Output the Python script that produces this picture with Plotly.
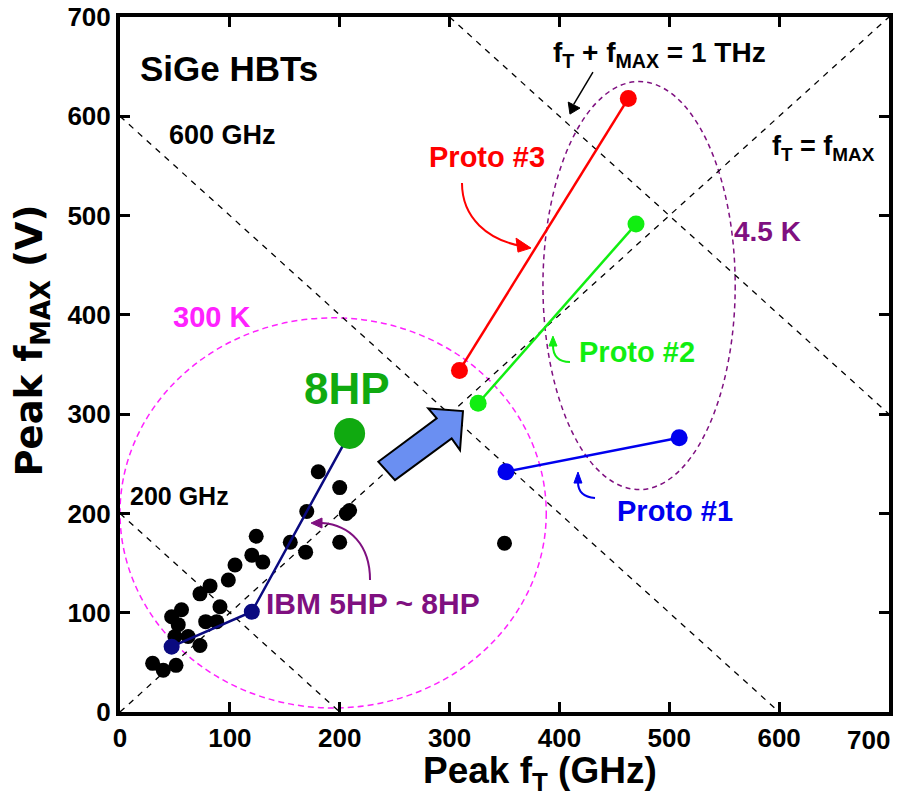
import plotly.graph_objects as go

# ---------------- data (GHz) ----------------
ibm_ft = [29.7, 39.4, 51, 50, 47, 56, 53, 62, 72.8, 72.8, 82, 78, 88, 91, 98.6, 104.7,
          120, 124, 130, 155, 170, 169, 180.5, 200, 200, 206, 209, 350]
ibm_fmax = [49, 42, 47, 76, 96, 103, 88, 76, 67, 119, 127, 91, 91, 106, 133, 148,
            158, 177, 151, 171, 202, 161, 242, 226, 171, 200, 203, 170]

trend_ft = [47, 120, 209]          # 5HP -> 7HP -> 8HP
trend_fmax = [65.8, 101, 280.6]
hp5_7_ft = [47, 120]
hp5_7_fmax = [65.8, 101]

hp8_ft = [209]
hp8_fmax = [280.6]

proto1_ft = [351.3, 509]
proto1_fmax = [242, 276.2]
proto2_ft = [326, 469.7]
proto2_fmax = [311, 491.4]
proto3_ft = [309, 462.7]
proto3_fmax = [344, 618]

diag_ft = [0, 700]
diag_fmax = [0, 700]
sum200_ft = [0, 200]
sum200_fmax = [200, 0]
sum600_ft = [0, 600]
sum600_fmax = [600, 0]
sum1000_ft = [300, 700]
sum1000_fmax = [700, 300]

tick_vals = [0, 100, 200, 300, 400, 500, 600, 700]
x_tick_text = ["0", "100", "200", "300", "400", "500", "600", ""]
x_last_label = "700"   # drawn flush with the right edge, as in the reference
y_tick_text = ["0", "100", "200", "300", "400", "500", "600", "700"]

FONT = "Liberation Sans, Arial, Helvetica, sans-serif"
HEAVY = "DejaVu Sans, Liberation Sans, Arial, sans-serif"

RED = "#FF0000"
GREEN = "#11EE11"
BLUE = "#0000EE"
NAVY = "#0A0A80"
DKGREEN = "#10AA10"
PURPLE = "#7F1080"
MAGENTA = "#FF22FF"

fig = go.Figure()

dash = dict(color="black", width=1.3, dash="6px,6px")
for xs, ys in [(diag_ft, diag_fmax), (sum200_ft, sum200_fmax),
               (sum600_ft, sum600_fmax), (sum1000_ft, sum1000_fmax)]:
    fig.add_trace(go.Scatter(x=xs, y=ys, mode="lines", line=dash,
                             hoverinfo="skip", showlegend=False))

fig.add_trace(go.Scatter(x=ibm_ft, y=ibm_fmax, mode="markers",
                         marker=dict(color="black", size=15, line=dict(width=0)),
                         showlegend=False))
fig.add_trace(go.Scatter(x=trend_ft, y=trend_fmax, mode="lines",
                         line=dict(color=NAVY, width=2.5), showlegend=False))
fig.add_trace(go.Scatter(x=hp5_7_ft, y=hp5_7_fmax, mode="markers",
                         marker=dict(color=NAVY, size=16, opacity=1, line=dict(width=0)),
                         showlegend=False))
fig.add_trace(go.Scatter(x=hp8_ft, y=hp8_fmax, mode="markers",
                         marker=dict(color=DKGREEN, size=31, line=dict(width=0)),
                         showlegend=False))
for xs, ys, c in [(proto1_ft, proto1_fmax, BLUE), (proto2_ft, proto2_fmax, GREEN),
                  (proto3_ft, proto3_fmax, RED)]:
    fig.add_trace(go.Scatter(x=xs, y=ys, mode="lines+markers",
                             line=dict(color=c, width=2.5),
                             marker=dict(color=c, size=17, line=dict(width=0)),
                             showlegend=False))

shapes = []
# 300 K and 4.5 K boundaries
shapes.append(dict(type="circle", xref="x", yref="y", x0=0, x1=388, y0=4, y1=397,
                   line=dict(color=MAGENTA, width=1.5, dash="6px,4px"), layer="below"))
shapes.append(dict(type="circle", xref="x", yref="y", x0=385, x1=560, y0=224, y1=635,
                   line=dict(color=PURPLE, width=1.5, dash="5px,4px"), layer="below"))

# big blue arrow (data coordinates)
arrow = [(235.1, 252.1), (288.3, 295.8), (280.6, 305.8), (312.2, 303.1),
         (309.5, 263.8), (301.9, 275.6), (250.3, 233.6)]
path = "M " + " L ".join(f"{x},{y}" for x, y in arrow) + " Z"
shapes.append(dict(type="path", xref="x", yref="y", path=path,
                   fillcolor="#6A8FF2", line=dict(color="black", width=2), layer="above"))


def curve(pts, color, width=2):
    (x0, y0), (x1, y1), (x2, y2), (x3, y3) = pts
    return dict(type="path", xref="x", yref="y",
                path=f"M {x0},{y0} C {x1},{y1} {x2},{y2} {x3},{y3}",
                line=dict(color=color, width=width), layer="above")


def head(pts, color):
    (a, b), (c, d), (e, f) = pts
    return dict(type="path", xref="x", yref="y",
                path=f"M {a},{b} L {c},{d} L {e},{f} Z",
                fillcolor=color, line=dict(color=color, width=1), layer="above")


shapes += [
    curve([(311.3, 532.7), (311.3, 497.5), (335, 475.3), (365.9, 469.3)], RED),
    head([(374.1, 467.3), (360.5, 477.3), (362.3, 463.2)], RED),
    curve([(409.6, 352.5), (397.8, 352.5), (394.1, 359.5), (394.1, 369.6)], GREEN),
    head([(394.1, 378.6), (390.5, 368.6), (397.8, 368.6)], GREEN),
    curve([(432.4, 215.5), (420.5, 216.5), (416.9, 223.6), (416.9, 231.6)], BLUE),
    head([(416.9, 241.7), (413.2, 230.6), (420.5, 230.6)], BLUE),
    curve([(227.6, 132.9), (227.6, 168.2), (209.4, 188.3), (183.9, 190.3)], PURPLE),
    head([(173.9, 190.3), (183.9, 195.4), (183.9, 185.3)], PURPLE),
    dict(type="line", xref="x", yref="y", x0=430.5, y0=644.5, x1=413, y1=612,
         line=dict(color="black", width=1.5), layer="above"),
    head([(409.6, 602.2), (408.0, 614.3), (418.7, 608.3)], "black"),
]

ann = []


def txt(x, y, s, color="black", size=28, xanchor="center"):
    ann.append(dict(x=x, y=y, xref="x", yref="y", text=s, showarrow=False,
                    xanchor=xanchor, yanchor="middle",
                    font=dict(family=FONT, size=size, color=color, weight="bold")))


txt(16.5, 648.5, "SiGe HBTs", size=35, xanchor="left")
txt(42.7, 581, "600 GHz", size=27, xanchor="left")
txt(7.3, 217.5, "200 GHz", size=25, xanchor="left")
txt(83.7, 397.8, "300 K", color=MAGENTA, size=29)
txt(206.6, 326.3, "8HP", color=DKGREEN, size=44)
txt(230.3, 108.8, "IBM 5HP ~ 8HP", color=PURPLE, size=30)
txt(334, 559, "Proto #3", color=RED, size=29)
txt(470.6, 362.5, "Proto #2", color=GREEN, size=29)
txt(505.2, 202.4, "Proto #1", color=BLUE, size=29)
txt(589.8, 484.4, "4.5 K", color=PURPLE, size=28)
txt(491.5, 662, "f<sub>T</sub> + f<sub>MAX</sub> = 1 THz", size=28)
txt(640, 568, "f<sub>T</sub> = f<sub>MAX</sub>", size=27)

# last x tick label, kept inside the window
ann.append(dict(x=1.0035, y=-0.041, xref="paper", yref="paper", showarrow=False,
                text=x_last_label, xanchor="right", yanchor="middle",
                font=dict(family=FONT, size=26, color="black", weight="bold")))

# axis titles
ann.append(dict(x=0.546, y=-0.088, xref="paper", yref="paper", showarrow=False,
                text="Peak f<sub>T</sub> (GHz)", xanchor="center", yanchor="middle",
                font=dict(family=FONT, size=37, color="black", weight="bold")))
ann.append(dict(x=-0.114, y=0.535, xref="paper", yref="paper", showarrow=False,
                text="Peak f<sub>MAX</sub> (V)", textangle=-90,
                xanchor="center", yanchor="middle",
                font=dict(family=HEAVY, size=37, color="black", weight="bold")))

axis_common = dict(range=[0, 700], tickvals=tick_vals,
                   showgrid=False, zeroline=False, showline=True, linecolor="black",
                   linewidth=4, mirror="allticks", ticks="inside", ticklen=10,
                   tickwidth=3, tickcolor="black", automargin=False,
                   ticklabeloverflow="allow",
                   tickfont=dict(family=FONT, size=26, color="black", weight="bold"))

# the page body adds an 8 px offset; margins compensate so the plot lands in place
fig.update_layout(
    width=885, height=792,
    margin=dict(l=112, r=4, t=9, b=88),
    paper_bgcolor="white", plot_bgcolor="white",
    xaxis=dict(**axis_common, ticktext=x_tick_text),
    yaxis=dict(**axis_common, ticktext=y_tick_text),
    shapes=shapes, annotations=ann, showlegend=False,
)

fig.write_html("out.html")
